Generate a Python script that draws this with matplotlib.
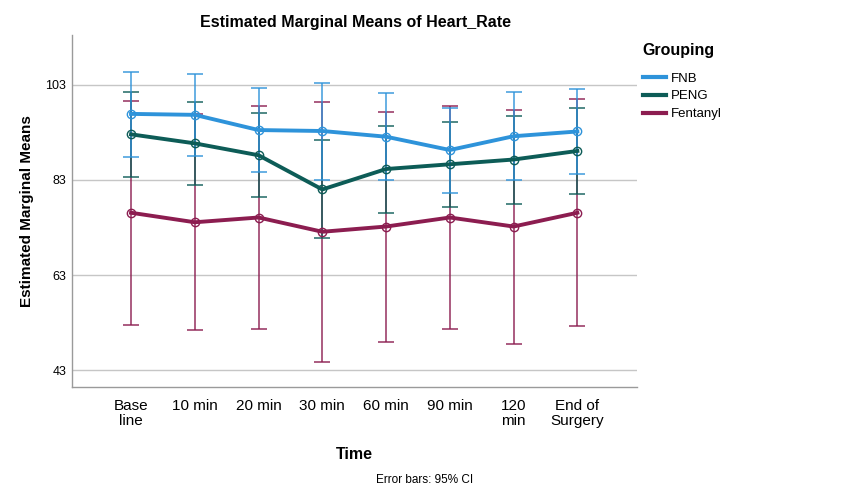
import matplotlib
matplotlib.use("Agg")
import matplotlib.pyplot as plt
from matplotlib.lines import Line2D
import numpy as np

plt.rcParams['font.family'] = ['Liberation Sans', 'DejaVu Sans']

categories = ["Base\nline", "10 min", "20 min", "30 min", "60 min", "90 min", "120\nmin", "End of\nSurgery"]
groups = ["FNB", "PENG", "Fentanyl"]

fnb_mean = [96.9, 96.7, 93.5, 93.3, 92.1, 89.3, 92.2, 93.2]
fnb_low = [87.9, 88.1, 84.7, 82.9, 82.9, 80.3, 82.9, 84.2]
fnb_high = [105.7, 105.3, 102.4, 103.5, 101.2, 98.1, 101.5, 102.2]

peng_mean = [92.6, 90.7, 88.2, 81.0, 85.3, 86.3, 87.3, 89.1]
peng_low = [83.7, 82.0, 79.4, 70.8, 76.0, 77.4, 78.0, 80.0]
peng_high = [101.6, 99.3, 97.1, 91.4, 94.4, 95.1, 96.5, 98.1]

fent_mean = [76.1, 74.1, 75.1, 72.1, 73.2, 75.1, 73.2, 76.1]
fent_low = [52.5, 51.4, 51.7, 44.8, 48.9, 51.6, 48.4, 52.2]
fent_high = [99.7, 96.8, 98.5, 99.5, 97.4, 98.6, 97.8, 100.0]

yticks = [43, 63, 83, 103]

colors = ["#2e93da", "#0d5c57", "#8c1d50"]

fig = plt.figure(figsize=(8.5, 5), dpi=100)
ax = fig.add_axes([0.0844, 0.2266, 0.6646, 0.7034])

x = np.arange(len(categories))
series = [(fnb_mean, fnb_low, fnb_high), (peng_mean, peng_low, peng_high), (fent_mean, fent_low, fent_high)]

for (m, lo, hi), c in reversed(list(zip(series, colors))):
    m = np.array(m); lo = np.array(lo); hi = np.array(hi)
    ax.errorbar(x, m, yerr=[m - lo, hi - m], fmt='none', ecolor=c, elinewidth=1.2,
                capsize=6, capthick=1.2, alpha=0.85, zorder=2)

for (m, lo, hi), c, g in zip(series, colors, groups):
    ax.plot(x, m, color=c, lw=2.8, zorder=3, label=g)
    ax.plot(x, m, 'o', mfc='none', mec=c, ms=6, mew=1.0, zorder=4)

ax.set_xlim(-0.93, 7.93)
ax.set_ylim(39.5, 113.5)
ax.set_yticks(yticks)
ax.set_yticklabels([str(t) for t in yticks], fontsize=9)
ax.set_xticks(x)
ax.set_xticklabels(categories, fontsize=11, linespacing=1.05)
ax.tick_params(axis='x', length=0, pad=9)
ax.tick_params(axis='y', length=0, pad=4)
ax.grid(axis='y', color='#c6c6c6', lw=1)
ax.set_axisbelow(True)
for s in ['top', 'right']:
    ax.spines[s].set_visible(False)
for s in ['left', 'bottom']:
    ax.spines[s].set_color('#9a9a9a')
    ax.spines[s].set_linewidth(1.0)

ax.set_ylabel("Estimated Marginal Means", fontsize=11, fontweight='bold', labelpad=8)
ax.set_xlabel("Time", fontsize=11.5, fontweight='bold', labelpad=14)
fig.text(0.418, 0.955, "Estimated Marginal Means of Heart_Rate", fontsize=11.5,
         fontweight='bold', ha='center', va='center')
fig.text(0.5, 0.04, "Error bars: 95% CI", fontsize=8.5, ha='center', va='center')

handles = [Line2D([0], [0], color=c, lw=3) for c in colors]
leg = fig.legend(handles, groups, loc='upper left', bbox_to_anchor=(0.756, 0.913),
                 frameon=False, fontsize=9.5, title="Grouping", handlelength=1.8,
                 handletextpad=0.35, labelspacing=0.42, borderaxespad=0, borderpad=0)
leg.get_title().set_fontweight('bold')
leg.get_title().set_fontsize(11.5)
leg._legend_box.align = "left"
leg._legend_box.sep = 10

fig.savefig("out.png", dpi=100, facecolor='white')
